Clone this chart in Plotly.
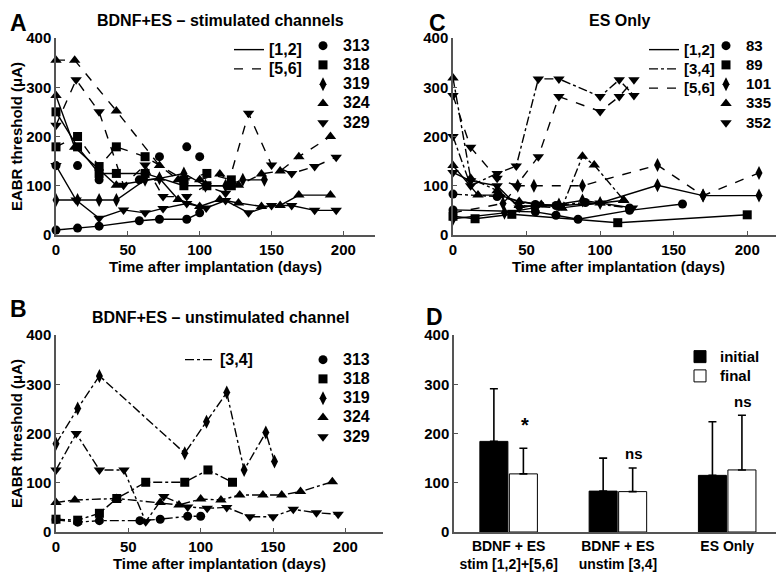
import plotly.graph_objects as go

W, H = 784, 574
PAGE_PAD = 8  # the html body margin shifts the figure by this much
FONT = "Liberation Sans, Arial, Helvetica, sans-serif"
AXIS = "#555555"

# ---- Panel A: BDNF+ES stimulated channels (days, threshold uA) ----
A_313_12_DAYS = [0, 15, 30, 58, 72, 91, 100]
A_313_12_VAL = [10, 14, 18, 29, 32, 32, 45]
A_313_56_DAYS = [0, 15, 30, 58, 72, 91, 100]
A_313_56_VAL = [141, 141, 112, 112, 159, 179, 159]
A_318_12_DAYS = [0, 15, 30, 42, 62, 89, 105, 122]
A_318_12_VAL = [250, 179, 125, 125, 125, 100, 100, 100]
A_318_56_DAYS = [0, 15, 30, 42, 62, 89, 105, 122]
A_318_56_VAL = [179, 200, 139, 179, 159, 112, 125, 112]
A_319_12_DAYS = [0, 15, 30, 42, 62, 72, 89, 104, 118, 130, 145]
A_319_12_VAL = [71, 71, 71, 71, 112, 115, 125, 100, 100, 112, 112]
A_324_12_DAYS = [0, 13, 42, 72, 85, 100, 114, 127, 143, 156, 169, 191]
A_324_12_VAL = [283, 178, 101, 115, 72, 58, 72, 65, 58, 60, 81, 81]
A_324_56_DAYS = [0, 13, 42, 72, 85, 100, 114, 127, 143, 156, 169, 191]
A_324_56_VAL = [355, 355, 252, 141, 112, 112, 124, 101, 124, 130, 159, 200]
A_329_12_DAYS = [0, 14, 30, 47, 62, 74.5, 91, 104.5, 118, 134, 150, 164, 180, 195]
A_329_12_VAL = [141, 71, 34, 51, 45, 54, 64, 55, 70, 45, 60, 60, 50, 50]
A_329_56_DAYS = [0, 14, 30, 47, 62, 74.5, 91, 104.5, 118, 134, 150, 164, 180, 195]
A_329_56_VAL = [223, 315, 250, 101, 142, 78, 78, 100, 85, 247, 142, 125, 139, 158]

# ---- Panel B: BDNF+ES unstimulated channel [3,4] ----
B_313_DAYS = [0, 15, 30, 58, 72, 91, 100]
B_313_VAL = [25, 20, 23, 23, 26, 32, 32]
B_318_DAYS = [0, 15, 30, 42, 62, 89, 105, 122]
B_318_VAL = [26, 24, 38, 68, 101, 101, 126, 101]
B_319_DAYS = [0, 15, 30, 89, 104, 118, 130, 145, 151]
B_319_VAL = [179, 251, 317, 160, 224, 283, 126, 202, 143]
B_324_DAYS = [0, 13, 42, 72, 85, 100, 114, 127, 143, 156, 169, 191]
B_324_VAL = [60, 65, 68, 60, 55, 67, 65, 75, 75, 75, 82, 102]
B_329_DAYS = [0, 14, 30, 47, 62, 74.5, 91, 104.5, 118, 134, 150, 164, 180, 195]
B_329_VAL = [126, 200, 126, 126, 21, 72, 51, 48, 50, 31, 31, 46, 39, 36]

# ---- Panel C: ES only ----
C_83_12_DAYS = [0, 56, 70, 85, 120, 156]
C_83_12_VAL = [51, 47, 40, 32, 50, 63]
C_83_34_DAYS = [0, 30, 56, 70, 90, 120]
C_83_34_VAL = [83, 78, 62, 60, 66, 55]
C_89_12_DAYS = [0, 15, 40, 112, 200]
C_89_12_VAL = [38, 33, 42, 25, 41]
C_101_12_DAYS = [0, 35, 55, 72, 88, 100, 139, 170, 208]
C_101_12_VAL = [33, 45, 55, 62, 70, 65, 101, 80, 80]
C_101_56_DAYS = [0, 34, 44, 55, 88, 139, 170, 208]
C_101_56_VAL = [45, 64, 100, 100, 100, 142, 80, 126]
C_335_12_DAYS = [0, 17, 32, 45, 60, 74, 100, 116]
C_335_12_VAL = [141, 81, 81, 68, 62, 55, 65, 70]
C_335_34_DAYS = [0, 12, 30, 45, 74, 88, 96, 116]
C_335_34_VAL = [319, 115, 90, 60, 55, 160, 142, 71]
C_352_12_DAYS = [0, 12, 30, 45, 58, 74, 100, 122]
C_352_12_VAL = [127, 110, 100, 55, 62, 60, 65, 55]
C_352_34_DAYS = [0, 12, 30, 43, 58, 72, 100, 113, 123]
C_352_34_VAL = [200, 100, 125, 140, 317, 317, 281, 315, 283]
C_352_56_DAYS = [0, 12, 30, 43, 58, 72, 100, 113, 123]
C_352_56_VAL = [283, 178, 115, 100, 159, 281, 251, 281, 315]

# ---- Panel D: mean initial / final thresholds ----
D_GROUPS = ["BDNF + ES<br>stim [1,2]+[5,6]", "BDNF + ES<br>unstim [3,4]", "ES Only"]
D_INITIAL = [184, 83, 115]
D_INITIAL_SD = [107, 67, 109]
D_FINAL = [118, 82, 126]
D_FINAL_SD = [52, 48, 111]
D_SIG = ["*", "ns", "ns"]
D_SIG_Y = [218, 160, 265]

A_SYMBOLS = {"313": "circle", "318": "square", "319": "diamond-tall",
             "324": "triangle-up", "329": "triangle-down"}
C_SYMBOLS = {"83": "circle", "89": "square", "101": "diamond-tall",
             "335": "triangle-up", "352": "triangle-down"}


def px(x):
    return (x - PAGE_PAD) / W


def py(y):
    return 1 - (y - PAGE_PAD) / H


def msize(symbol):
    if "diamond" in symbol or "triangle" in symbol:
        return 10
    return 9


fig = go.Figure()


def series(days, vals, symbol, dash, xa, ya, mode="lines+markers"):
    fig.add_trace(go.Scatter(
        x=days, y=vals, mode=mode, xaxis=xa, yaxis=ya, showlegend=False,
        cliponaxis=False,
        line=dict(color="black", width=1.4, dash=dash),
        marker=dict(symbol=symbol, size=msize(symbol), color="black"),
    ))


# panel A
series(A_313_12_DAYS, A_313_12_VAL, A_SYMBOLS["313"], "solid", "x", "y")
series(A_313_56_DAYS, A_313_56_VAL, A_SYMBOLS["313"], "dash", "x", "y", "markers")
series(A_318_12_DAYS, A_318_12_VAL, A_SYMBOLS["318"], "solid", "x", "y")
series(A_318_56_DAYS, A_318_56_VAL, A_SYMBOLS["318"], "dash", "x", "y")
series(A_319_12_DAYS, A_319_12_VAL, A_SYMBOLS["319"], "solid", "x", "y")
series(A_324_12_DAYS, A_324_12_VAL, A_SYMBOLS["324"], "solid", "x", "y")
series(A_324_56_DAYS, A_324_56_VAL, A_SYMBOLS["324"], "dash", "x", "y")
series(A_329_12_DAYS, A_329_12_VAL, A_SYMBOLS["329"], "solid", "x", "y")
series(A_329_56_DAYS, A_329_56_VAL, A_SYMBOLS["329"], "dash", "x", "y")

# panel B
series(B_313_DAYS, B_313_VAL, A_SYMBOLS["313"], "dashdot", "x3", "y3")
series(B_318_DAYS, B_318_VAL, A_SYMBOLS["318"], "dashdot", "x3", "y3")
series(B_319_DAYS, B_319_VAL, A_SYMBOLS["319"], "dashdot", "x3", "y3")
series(B_324_DAYS, B_324_VAL, A_SYMBOLS["324"], "dashdot", "x3", "y3")
series(B_329_DAYS, B_329_VAL, A_SYMBOLS["329"], "dashdot", "x3", "y3")

# panel C
series(C_83_12_DAYS, C_83_12_VAL, C_SYMBOLS["83"], "solid", "x2", "y2")
series(C_83_34_DAYS, C_83_34_VAL, C_SYMBOLS["83"], "dashdot", "x2", "y2")
series(C_89_12_DAYS, C_89_12_VAL, C_SYMBOLS["89"], "solid", "x2", "y2")
series(C_101_12_DAYS, C_101_12_VAL, C_SYMBOLS["101"], "solid", "x2", "y2")
series(C_101_56_DAYS, C_101_56_VAL, C_SYMBOLS["101"], "dash", "x2", "y2")
series(C_335_12_DAYS, C_335_12_VAL, C_SYMBOLS["335"], "solid", "x2", "y2")
series(C_335_34_DAYS, C_335_34_VAL, C_SYMBOLS["335"], "dashdot", "x2", "y2")
series(C_352_12_DAYS, C_352_12_VAL, C_SYMBOLS["352"], "solid", "x2", "y2")
series(C_352_34_DAYS, C_352_34_VAL, C_SYMBOLS["352"], "dashdot", "x2", "y2")
series(C_352_56_DAYS, C_352_56_VAL, C_SYMBOLS["352"], "dash", "x2", "y2")

# panel D
fig.add_trace(go.Bar(
    x=D_GROUPS, y=D_INITIAL, name="<span style='font-size:15px'>initial</span>",
    xaxis="x4", yaxis="y4", legend="legend7",
    marker=dict(color="black", line=dict(color="black", width=1)),
    error_y=dict(type="data", array=D_INITIAL_SD, arrayminus=[0] * 3, symmetric=False,
                 color="black", thickness=1.6, width=4),
))
fig.add_trace(go.Bar(
    x=D_GROUPS, y=D_FINAL, name="<span style='font-size:15px'>final</span>",
    xaxis="x4", yaxis="y4", legend="legend7",
    marker=dict(color="white", line=dict(color="black", width=1)),
    error_y=dict(type="data", array=D_FINAL_SD, arrayminus=[0] * 3, symmetric=False,
                 color="black", thickness=1.6, width=4),
))


def big(text, size):
    return "<span style='font-size:%dpx'>%s</span>" % (size, text)


# legend-only entries
def line_key(name, dash, legend, size=16):
    fig.add_trace(go.Scatter(x=[None], y=[None], mode="lines", name=big(name, size),
                             legend=legend, line=dict(color="black", width=1.4, dash=dash)))


def marker_key(name, symbol, legend, size=16):
    fig.add_trace(go.Scatter(x=[None], y=[None], mode="markers", name=big(name, size),
                             legend=legend,
                             marker=dict(symbol=symbol, color="black", size=msize(symbol))))


line_key("[1,2]", "solid", "legend")
line_key("[5,6]", "dash", "legend")
for k, s in A_SYMBOLS.items():
    marker_key(k, s, "legend2")
line_key("[1,2]", "solid", "legend3", 15)
line_key("[3,4]", "dashdot", "legend3", 15)
line_key("[5,6]", "dash", "legend3", 15)
for k, s in C_SYMBOLS.items():
    marker_key(k, s, "legend4", 15)
line_key("[3,4]", "dashdot", "legend5")
for k, s in A_SYMBOLS.items():
    marker_key(k, s, "legend6")

for g, lab, yv in zip(D_GROUPS, D_SIG, D_SIG_Y):
    fig.add_annotation(x=g, y=yv, xref="x4", yref="y4", text=lab, showarrow=False,
                       xshift=16, font=dict(size=20 if lab == "*" else 15, weight="bold"))

tick = dict(family=FONT, size=15, color="black", weight="bold")
ttl = dict(family=FONT, size=15, color="black", weight="bold")


def xax(dom, rng, anchor):
    return dict(domain=dom, range=rng, anchor=anchor, showline=True, linecolor=AXIS,
                linewidth=1.5, ticks="inside", ticklen=4, tickcolor=AXIS, showgrid=False,
                zeroline=False, tickvals=[0, 50, 100, 150, 200], tickfont=tick,
                title=dict(text="Time after implantation (days)", font=ttl, standoff=2))


def yax(dom, anchor, title=True):
    d = dict(domain=dom, range=[0, 400], anchor=anchor, showline=True, linecolor=AXIS,
             linewidth=1.5, ticks="inside", ticklen=4, tickcolor=AXIS, showgrid=False,
             zeroline=False, tickvals=[0, 100, 200, 300, 400], tickfont=tick)
    if title:
        d["title"] = dict(text="EABR threshold (\u03bcA)", font=ttl, standoff=8)
    return d


leg = dict(bgcolor="rgba(0,0,0,0)", font=dict(family=FONT, size=12.5, color="black", weight="bold"),
           xanchor="left", yanchor="top", tracegroupgap=0, itemclick=False,
           itemdoubleclick=False)

fig.update_layout(
    width=W, height=H, paper_bgcolor="white", plot_bgcolor="white",
    margin=dict(l=0, r=0, t=0, b=0, autoexpand=False), font=dict(family=FONT, color="black"),
    barmode="group", bargap=0.46, bargroupgap=0.05,
    xaxis=xax([px(56), px(375)], [0, 222], "y"),
    yaxis=yax([py(235), py(38)], "x"),
    xaxis2=xax([px(453), px(784)], [0, 225], "y2"),
    yaxis2=yax([py(235), py(38)], "x2", title=False),
    xaxis3=xax([px(56), px(383)], [0, 226], "y3"),
    yaxis3=yax([py(532), py(335)], "x3"),
    xaxis4=dict(domain=[px(454), px(784)], range=[-0.5, 2.52], anchor="y4", showline=True,
                linecolor=AXIS, linewidth=1.5, ticks="", showgrid=False, zeroline=False,
                tickfont=dict(family=FONT, size=14, color="black", weight="bold")),
    yaxis4=yax([py(532), py(335)], "x4", title=False),
    legend=dict(leg, x=px(229), y=py(35)),
    legend2=dict(leg, x=px(303), y=py(31)),
    legend3=dict(leg, x=px(644), y=py(35)),
    legend4=dict(leg, x=px(706), y=py(31)),
    legend5=dict(leg, x=px(180), y=py(345)),
    legend6=dict(leg, x=px(303), y=py(345)),
    legend7=dict(leg, x=px(680), y=py(342)),
)

titles = [("BDNF+ES \u2013 stimulated channels", 220, 20),
          ("ES Only", 619, 20),
          ("BDNF+ES \u2013 unstimulated channel", 220, 317)]
for text, x, y in titles:
    fig.add_annotation(x=px(x), y=py(y), xref="paper", yref="paper", text=text,
                       xanchor="center", yanchor="middle", showarrow=False,
                       font=dict(family=FONT, size=16, weight="bold"))

# panel letters, anchored by their top edge
letters = [("A", 18, 8), ("C", 437, 8), ("B", 18, 294), ("D", 435, 302)]
for text, x, y in letters:
    fig.add_annotation(x=px(x), y=py(y), xref="paper", yref="paper", text=text,
                       xanchor="center", yanchor="top", showarrow=False,
                       font=dict(family=FONT, size=23, weight="bold"))

fig.write_html("out.html")
